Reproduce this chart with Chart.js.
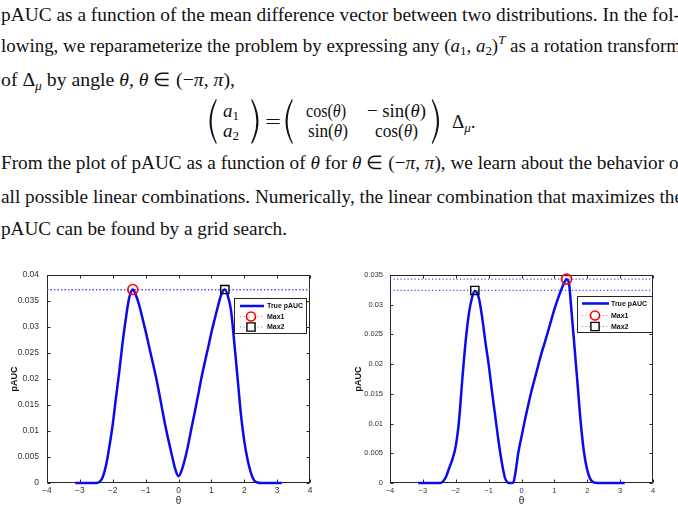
<!DOCTYPE html>
<html><head><meta charset="utf-8">
<script src="https://cdn.jsdelivr.net/npm/chart.js@4.4.0/dist/chart.umd.min.js"></script>
<style>
html,body{margin:0;padding:0;background:#fff;}
#page{position:relative;width:678px;height:532px;overflow:hidden;background:#fff;}
#txt{position:absolute;left:0;top:0;}
.c{position:absolute;top:250px;width:339px;height:282px;}
</style></head><body>
<div id="page">
<svg id="txt" width="678" height="250" font-family="'Liberation Serif','Times New Roman',serif" font-size="19" fill="#111">
<text x="1" y="21" textLength="679" lengthAdjust="spacingAndGlyphs">pAUC as a function of the mean difference vector between two distributions. In the fol-</text>
<text x="1" y="52" textLength="680" lengthAdjust="spacingAndGlyphs">lowing, we reparameterize the problem by expressing any (<tspan font-style="italic">a</tspan><tspan font-size="13" dy="3">1</tspan><tspan dy="-3">, </tspan><tspan font-style="italic">a</tspan><tspan font-size="13" dy="3">2</tspan><tspan dy="-3">)</tspan><tspan font-size="13" font-style="italic" dy="-8">T</tspan><tspan dy="8"> as a rotation transform</tspan></text>
<text x="1" y="86" textLength="234" lengthAdjust="spacingAndGlyphs">of Δ<tspan font-size="13" font-style="italic" dy="4">μ</tspan><tspan dy="-4"> by angle </tspan><tspan font-style="italic">θ</tspan>, <tspan font-style="italic">θ</tspan> ∈ (−<tspan font-style="italic">π</tspan>, <tspan font-style="italic">π</tspan>),</text>
<path d="M216 99 Q203 121.5 216 144 L216.8 143 Q206.5 121.5 216.8 100 Z"/>
<path d="M252 99 Q265 121.5 252 144 L251.2 143 Q261.5 121.5 251.2 100 Z"/>
<text x="223" y="117"><tspan font-style="italic">a</tspan><tspan font-size="13" dy="3">1</tspan></text>
<text x="223" y="137"><tspan font-style="italic">a</tspan><tspan font-size="13" dy="3">2</tspan></text>
<text x="265" y="128" textLength="16" lengthAdjust="spacingAndGlyphs">=</text>
<path d="M292 99 Q279 121.5 292 144 L292.8 143 Q282.5 121.5 292.8 100 Z"/>
<path d="M432.5 99 Q445.5 121.5 432.5 144 L431.7 143 Q442 121.5 431.7 100 Z"/>
<text x="306" y="117" textLength="40" lengthAdjust="spacingAndGlyphs">cos(<tspan font-style="italic">θ</tspan>)</text>
<text x="367" y="117" textLength="59" lengthAdjust="spacingAndGlyphs">− sin(<tspan font-style="italic">θ</tspan>)</text>
<text x="308" y="137" textLength="40" lengthAdjust="spacingAndGlyphs">sin(<tspan font-style="italic">θ</tspan>)</text>
<text x="375" y="137" textLength="43" lengthAdjust="spacingAndGlyphs">cos(<tspan font-style="italic">θ</tspan>)</text>
<text x="452" y="128">Δ<tspan font-size="13" font-style="italic" dy="4">μ</tspan><tspan dy="-4">.</tspan></text>
<text x="1" y="169" textLength="684" lengthAdjust="spacingAndGlyphs">From the plot of pAUC as a function of <tspan font-style="italic">θ</tspan> for <tspan font-style="italic">θ</tspan> ∈ (−<tspan font-style="italic">π</tspan>, <tspan font-style="italic">π</tspan>), we learn about the behavior of</text>
<text x="1" y="203" textLength="682" lengthAdjust="spacingAndGlyphs">all possible linear combinations. Numerically, the linear combination that maximizes the</text>
<text x="1" y="235" textLength="286" lengthAdjust="spacingAndGlyphs">pAUC can be found by a grid search.</text>
</svg>
<div class="c" style="left:0"><canvas id="c1" width="339" height="282"></canvas></div>
<div class="c" style="left:339px"><canvas id="c2" width="339" height="282"></canvas></div>
</div>
<script>
// ---- data ----
const xTicks = [-4, -3, -2, -1, 0, 1, 2, 3, 4];
const yTicksLeft = [0, 0.005, 0.01, 0.015, 0.02, 0.025, 0.03, 0.035, 0.04];
const yTicksRight = [0, 0.005, 0.01, 0.015, 0.02, 0.025, 0.03, 0.035];
const legendLabels = ['True pAUC', 'Max1', 'Max2'];

const thetaLeft = [-3.14,-3.0,-2.8,-2.6,-2.5,-2.4,-2.3,-2.2,-2.1,-2.0,-1.9,-1.8,-1.7,-1.6,-1.5,-1.39,-1.3,-1.2,-1.1,-1.0,-0.9,-0.8,-0.7,-0.6,-0.5,-0.4,-0.3,-0.2,-0.1,0,0.1,0.2,0.3,0.4,0.5,0.6,0.7,0.8,0.9,1.0,1.1,1.2,1.3,1.41,1.5,1.6,1.7,1.8,1.9,2.0,2.1,2.2,2.3,2.4,2.5,2.6,2.8,3.0,3.14];
const paucLeft = [0,0,0,0,0,0.0002,0.0012,0.0035,0.0071,0.0113,0.0165,0.0215,0.027,0.0317,0.0356,0.0372,0.0362,0.0343,0.0318,0.0292,0.0264,0.0236,0.0208,0.0177,0.0143,0.011,0.0081,0.0053,0.0027,0.0013,0.0025,0.0047,0.0075,0.0107,0.0138,0.017,0.0203,0.0232,0.026,0.0289,0.0315,0.034,0.0362,0.0372,0.036,0.0331,0.0268,0.02,0.0131,0.0081,0.0045,0.002,0.0005,0.0001,0,0,0,0,0];
const maxLeft1 = [-1.39, 0.0372];
const maxLeft2 = [1.41, 0.0372];

const thetaRight = [-3.14,-3.0,-2.8,-2.6,-2.5,-2.4,-2.3,-2.2,-2.1,-2.0,-1.9,-1.8,-1.7,-1.6,-1.5,-1.42,-1.3,-1.2,-1.1,-1.0,-0.9,-0.8,-0.7,-0.6,-0.5,-0.42,-0.35,-0.3,-0.25,-0.2,-0.1,0,0.1,0.2,0.3,0.4,0.5,0.6,0.7,0.8,0.9,1.0,1.1,1.2,1.3,1.37,1.45,1.5,1.6,1.7,1.8,1.9,2.0,2.1,2.2,2.3,2.5,2.8,3.0,3.14];
const paucRight = [0,0,0,0,0,0.0002,0.001,0.0025,0.004,0.0062,0.0105,0.0175,0.0238,0.0285,0.0313,0.0323,0.0312,0.028,0.0238,0.02,0.0155,0.0113,0.0071,0.0035,0.0008,0.0001,0,0,0.0001,0.0012,0.005,0.0078,0.0105,0.013,0.0154,0.0175,0.0196,0.0217,0.0235,0.0254,0.0273,0.0292,0.0309,0.0324,0.0337,0.0343,0.0334,0.0303,0.0237,0.017,0.0103,0.0052,0.0022,0.0006,0.0001,0,0,0,0,0];
const maxRight1 = [1.37, 0.0343];
const maxRight2 = [-1.42, 0.0324];

// ---- styles ----
const BLUE = '#0a0af0';
const DOTLINE = '#4a4aff';
const AXIS = '#262626';
const SANS = "'Liberation Sans', Arial, Helvetica, sans-serif";

const fmtX = v => v < 0 ? '\u2212' + (-v) : String(v);
const fmtY = v => String(parseFloat(Number(v).toFixed(4)));

const frame = {
  id: 'frame',
  beforeDatasetsDraw(chart) {
    const {ctx, chartArea: a, scales: {x, y}} = chart;
    ctx.save();
    ctx.strokeStyle = AXIS; ctx.lineWidth = 1;
    const l = Math.round(a.left) + 0.5, r = Math.round(a.right) - 0.5;
    const t = Math.round(a.top) + 0.5, b = Math.round(a.bottom) - 0.5;
    ctx.strokeRect(l, t, r - l, b - t);
    ctx.beginPath();
    x.ticks.forEach(tk => {
      const p = Math.round(x.getPixelForValue(tk.value)) + 0.5;
      ctx.moveTo(p, b); ctx.lineTo(p, b - 3);
      ctx.moveTo(p, t); ctx.lineTo(p, t + 3);
    });
    y.ticks.forEach(tk => {
      const p = Math.round(y.getPixelForValue(tk.value)) + 0.5;
      ctx.moveTo(l, p); ctx.lineTo(l + 3, p);
      ctx.moveTo(r, p); ctx.lineTo(r - 3, p);
    });
    ctx.stroke();
    ctx.restore();
  },
  afterDraw(chart, args, o) {
    const {ctx, chartArea: a} = chart;
    const ds = chart.data.datasets;
    const L = Math.round(a.right + o.dx - o.w), T = Math.round(a.top + o.dy);
    ctx.save();
    ctx.fillStyle = '#fff';
    ctx.fillRect(L, T, o.w, o.h);
    ctx.strokeStyle = AXIS; ctx.lineWidth = 1;
    ctx.strokeRect(L + 0.5, T + 0.5, o.w - 1, o.h - 1);
    let yy = T + o.rows[0];
    ctx.strokeStyle = ds[0].borderColor; ctx.lineWidth = ds[0].borderWidth;
    ctx.beginPath(); ctx.moveTo(L + o.ls, yy); ctx.lineTo(L + o.le, yy); ctx.stroke();
    const mk = [[ds[3], '#ff7070'], [ds[4], '#7f7fd0']];
    mk.forEach((m, i) => {
      const d = m[0];
      yy = T + o.rows[i + 1];
      ctx.strokeStyle = m[1]; ctx.lineWidth = 1; ctx.setLineDash([1, 2.5]);
      ctx.beginPath(); ctx.moveTo(L + o.ls, yy); ctx.lineTo(L + o.le, yy); ctx.stroke();
      ctx.setLineDash([]);
      ctx.strokeStyle = d.pointBorderColor; ctx.lineWidth = d.pointBorderWidth;
      ctx.fillStyle = '#fff';
      ctx.beginPath();
      if (d.pointStyle === 'circle') {
        ctx.arc(L + o.mx, yy, d.pointRadius - 0.5, 0, Math.PI * 2);
      } else {
        const s = d.pointRadius * Math.SQRT1_2;
        ctx.rect(L + o.mx - s, yy - s, 2 * s, 2 * s);
      }
      ctx.fill(); ctx.stroke();
    });
    ctx.fillStyle = '#111';
    ctx.font = 'bold 7px ' + SANS;
    ctx.textBaseline = 'middle';
    legendLabels.forEach((lab, i) => ctx.fillText(lab, L + o.tx, T + o.rows[i] + 0.5));
    ctx.restore();
  }
};

function makeChart(id, theta, pauc, m1, m2, yTicks, yMax, cfg) {
  const curve = theta.map((t, i) => ({x: t, y: pauc[i]}));
  return new Chart(document.getElementById(id), {
    type: 'line',
    data: {
      datasets: [
        {label: legendLabels[0], data: curve, borderColor: BLUE, borderWidth: 2.5, pointRadius: 0,
         cubicInterpolationMode: 'monotone', fill: false, order: 1, clip: false},
        {label: 'max1 level', data: [{x: -4, y: m1[1]}, {x: 4, y: m1[1]}], borderColor: DOTLINE,
         borderWidth: 1.2, borderDash: [1.2, 2.3], pointRadius: 0, order: 2},
        {label: 'max2 level', data: [{x: -4, y: m2[1]}, {x: 4, y: m2[1]}], borderColor: DOTLINE,
         borderWidth: 1.2, borderDash: [1.2, 2.3], pointRadius: 0, order: 2},
        {label: legendLabels[1], data: [{x: m1[0], y: m1[1]}], showLine: false, pointStyle: 'circle',
         pointRadius: 5, pointBorderColor: '#ff0000', pointBorderWidth: 1.6,
         pointBackgroundColor: 'rgba(0,0,0,0)', order: 0, clip: false},
        {label: legendLabels[2], data: [{x: m2[0], y: m2[1]}], showLine: false, pointStyle: 'rect',
         pointRadius: 5.8, pointBorderColor: '#000000', pointBorderWidth: 1.4,
         pointBackgroundColor: 'rgba(0,0,0,0)', order: 0, clip: false}
      ]
    },
    options: {
      responsive: false, animation: false, events: [],
      layout: {padding: {left: 0, top: 25, right: cfg.padRight, bottom: 0}},
      plugins: {legend: {display: false}, tooltip: {enabled: false}, frame: cfg.legend},
      scales: {
        x: {
          type: 'linear', min: -4, max: 4,
          afterBuildTicks: s => { s.ticks = xTicks.map(v => ({value: v})); },
          afterFit: s => { s.height = 49; },
          grid: {display: false, drawTicks: false}, border: {display: false},
          ticks: {callback: fmtX, color: '#333', font: {family: SANS, size: cfg.tickSize}, padding: 3, maxRotation: 0, autoSkip: false},
          title: {display: true, text: 'θ', color: '#222', font: {family: SANS, size: 10}, padding: {top: 0, bottom: 25}}
        },
        y: {
          type: 'linear', min: 0, max: yMax,
          afterBuildTicks: s => { s.ticks = yTicks.map(v => ({value: v})); },
          afterFit: s => { s.width = cfg.yWidth; },
          grid: {display: false, drawTicks: false}, border: {display: false},
          ticks: {callback: fmtY, color: '#333', font: {family: SANS, size: cfg.tickSize}, padding: cfg.yPad, autoSkip: false},
          title: {display: true, text: 'pAUC', color: '#111', font: {family: SANS, size: 9, weight: 'bold'}, padding: {top: cfg.titlePad, bottom: 0}}
        }
      }
    },
    plugins: [frame]
  });
}

makeChart('c1', thetaLeft, paucLeft, maxLeft1, maxLeft2, yTicksLeft, 0.04,
  {padRight: 29, yWidth: 47, yPad: 8, titlePad: 9.6, tickSize: 8.5,
   legend: {dx: -3, dy: 23, w: 73, h: 36, rows: [8, 18.5, 29], ls: 6, le: 30, mx: 17, tx: 33}});
makeChart('c2', thetaRight, paucRight, maxRight1, maxRight2, yTicksRight, 0.035,
  {padRight: 25, yWidth: 51, yPad: 7, titlePad: 14.6, tickSize: 7.5,
   legend: {dx: 0, dy: 21, w: 76, h: 37, rows: [7.5, 19.5, 30.5], ls: 5, le: 32, mx: 18, tx: 34}});
</script>
</body></html>
